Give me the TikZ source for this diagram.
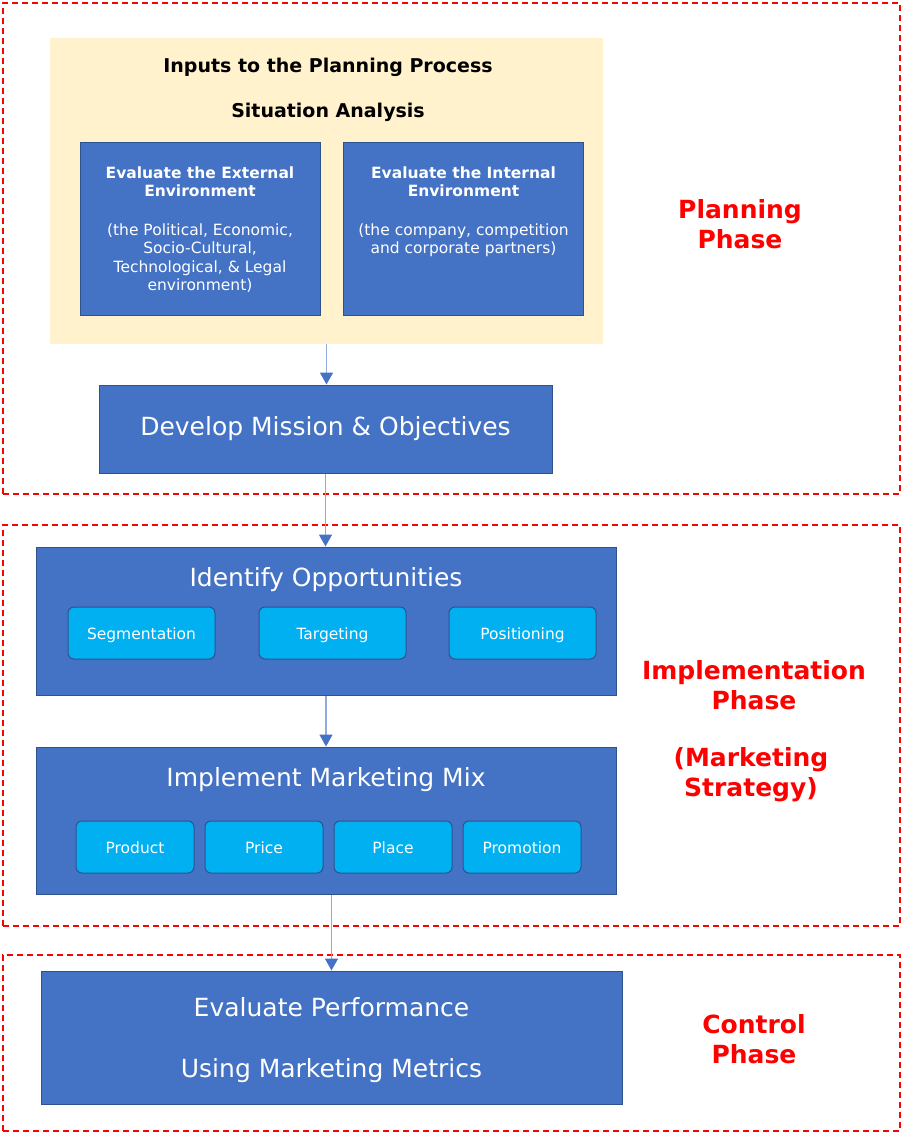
\documentclass[tikz,border=0pt]{standalone}
\usepackage{fontspec}
\setmainfont{DejaVu Sans}
\usetikzlibrary{arrows.meta, positioning}
\definecolor{boxblue}{RGB}{68, 114, 196}
\definecolor{edgeblue}{RGB}{47, 82, 143}
\definecolor{chipcyan}{RGB}{0, 176, 240}
\definecolor{inputbg}{RGB}{255, 242, 204}
\definecolor{phasered}{RGB}{255, 0, 0}
\definecolor{linkblue}{RGB}{143, 170, 220}

\begin{document}
\begin{tikzpicture}[
  x=1pt, y=-1pt,
  zone/.style={rectangle, draw=phasered, line width=1.3pt, dash pattern=on 6pt off 4pt, inner sep=0pt},
  bigbox/.style={rectangle, draw=edgeblue, fill=boxblue, line width=1pt, text=white,
                 inner sep=0pt, align=center, font=\fontsize{25}{30}\selectfont},
  panel/.style={rectangle, draw=edgeblue, fill=boxblue, line width=1pt,
                minimum width=240pt, minimum height=173pt, inner sep=0pt},
  paneltext/.style={text=white, align=center, inner sep=0pt, font=\fontsize{15.5}{18.5}\selectfont},
  boxhead/.style={text=white, inner sep=0pt, font=\fontsize{25}{30}\selectfont},
  chip/.style={rectangle, rounded corners=6pt, draw=edgeblue, fill=chipcyan, line width=1pt,
               text=white, minimum height=52pt, inner sep=0pt, text height=12pt, text depth=0pt,
               font=\fontsize{15.5}{18}\selectfont},
  head/.style={font=\bfseries\fontsize{19}{22}\selectfont, inner sep=0pt},
  phase/.style={text=phasered, align=center, inner sep=0pt, font=\bfseries\fontsize{25}{30}\selectfont},
  flow/.style={draw=linkblue, line width=1.5pt, -{Triangle[length=12pt, width=13pt, color=boxblue]}}
]
  \useasboundingbox (0,0) rectangle (902,1133);

  % dashed phase zones
  \node[zone, minimum width=897pt, minimum height=491pt] (planzone) at (451.5,248.5) {};
  \node[zone, minimum width=897pt, minimum height=401pt] (implzone) at (451.5,725.5) {};
  \node[zone, minimum width=897pt, minimum height=176pt] (ctrlzone) at (451.5,1043) {};

  % planning
  \node[rectangle, fill=inputbg, minimum width=553pt, minimum height=306pt] (inputs) at (326.5,191) {};
  \node[head] (inputshead) at (328,67) {Inputs to the Planning Process};
  \node[head] (situation) at (328,112) {Situation Analysis};
  \node[panel] (extenv) at (200,228.5) {};
  \node[panel] (intenv) at (463.5,228.5) {};
  \node[paneltext, anchor=north, below=25pt of extenv.north] (exttext)
    {\textbf{Evaluate the External}\\\textbf{Environment}\\[20pt]
     (the Political, Economic,\\Socio-Cultural,\\Technological, \& Legal\\environment)};
  \node[paneltext, anchor=north, below=25pt of intenv.north] (inttext)
    {\textbf{Evaluate the Internal}\\\textbf{Environment}\\[20pt]
     (the company, competition\\and corporate partners)};
  \node[bigbox, minimum width=453pt, minimum height=88pt] (mission) at (325.5,429)
    {Develop Mission \& Objectives};

  % implementation
  \node[bigbox, minimum width=580pt, minimum height=148pt] (identify) at (326,621) {};
  \node[boxhead] (identifyhead) at (326,580) {Identify Opportunities};
  \node[chip, minimum width=147pt] (segment) at (141.5,633) {Segmentation};
  \node[chip, minimum width=147pt, right=43pt of segment] (target) {Targeting};
  \node[chip, minimum width=147pt, right=42pt of target] (position) {Positioning};

  \node[bigbox, minimum width=580pt, minimum height=147pt] (mix) at (326,820.5) {};
  \node[boxhead] (mixhead) at (326,780) {Implement Marketing Mix};
  \node[chip, minimum width=118pt] (product) at (135,847) {Product};
  \node[chip, minimum width=118pt, right=10pt of product] (price) {Price};
  \node[chip, minimum width=118pt, right=10pt of price] (place) {Place};
  \node[chip, minimum width=118pt, right=10pt of place] (promotion) {Promotion};

  % control
  \node[bigbox, minimum width=581pt, minimum height=133pt] (evaluate) at (331.5,1037.5) {};
  \node[boxhead] (evalhead) at (331.5,1007) {Evaluate Performance};
  \node[boxhead] (metrics) at (331.5,1071) {Using Marketing Metrics};

  % phase labels
  \node[phase] (planlabel) at (740,224) {Planning\\Phase};
  \node[phase] (impllabel) at (754,685) {Implementation\\Phase};
  \node[phase] (stratlabel) at (751,775) {(Marketing\\Strategy)};
  \node[phase] (ctrllabel) at (754,1039) {Control\\Phase};

  \draw[flow] (inputs.south) -- (inputs.south |- mission.north);
  \draw[flow] (mission.south) -- (mission.south |- identify.north);
  \draw[flow] (identify.south) -- (identify.south |- mix.north);
  \draw[flow] (evaluate.north |- mix.south) -- (evaluate.north);
\end{tikzpicture}
\end{document}
